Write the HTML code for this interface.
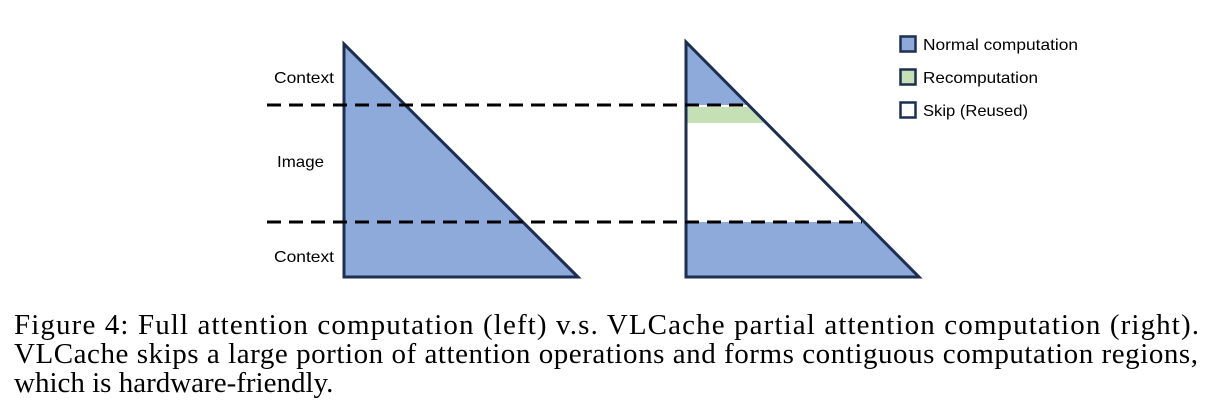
<!DOCTYPE html>
<html><head><meta charset="utf-8"><style>
html,body{margin:0;padding:0;background:#fff;width:1212px;height:418px;overflow:hidden}
</style></head><body>
<svg width="1212" height="418" viewBox="0 0 1212 418" xmlns="http://www.w3.org/2000/svg">
<polygon points="344,44 344,277 578,277" fill="#8eaadb" stroke="#1c2e52" stroke-width="3"/>
<polygon points="686,42 686,105 749,105" fill="#8eaadb"/>
<polygon points="686,107 748,107 765,123 686,123" fill="#c5e0b4"/>
<polygon points="686,222 867,222 919,277 686,277" fill="#8eaadb"/>
<polygon points="686,42 686,277 919,277" fill="none" stroke="#1c2e52" stroke-width="3"/>
<line x1="267" y1="105" x2="750" y2="105" stroke="#000" stroke-width="3" stroke-dasharray="14,8"/>
<line x1="267" y1="222" x2="862" y2="222" stroke="#000" stroke-width="3" stroke-dasharray="14,8"/>
<g font-family="'Liberation Sans',sans-serif" font-size="16" fill="#000">
<text x="274" y="83" textLength="60" lengthAdjust="spacingAndGlyphs">Context</text>
<text x="277" y="167" textLength="47" lengthAdjust="spacingAndGlyphs">Image</text>
<text x="274" y="262" textLength="60" lengthAdjust="spacingAndGlyphs">Context</text>
</g>
<rect x="900.5" y="36.5" width="15" height="15" fill="#8eaadb" stroke="#1c2e52" stroke-width="2.5"/>
<rect x="900.5" y="69.5" width="15" height="15" fill="#c5e0b4" stroke="#1c2e52" stroke-width="2.5"/>
<rect x="900.5" y="102.5" width="15" height="15" fill="#fff" stroke="#1c2e52" stroke-width="2.5"/>
<g font-family="'Liberation Sans',sans-serif" font-size="16" fill="#000">
<text x="923" y="50" textLength="155" lengthAdjust="spacingAndGlyphs">Normal computation</text>
<text x="923" y="83" textLength="115" lengthAdjust="spacingAndGlyphs">Recomputation</text>
<text x="923" y="116" textLength="105" lengthAdjust="spacingAndGlyphs">Skip (Reused)</text>
</g>
<g font-family="'Liberation Serif',serif" font-size="29" fill="#000">
<text x="14" y="334" textLength="1185" lengthAdjust="spacing">Figure 4:  Full attention computation (left) v.s.  VLCache partial attention computation (right).</text>
<text x="14" y="363" textLength="1184" lengthAdjust="spacing">VLCache skips a large portion of attention operations and forms contiguous computation regions,</text>
<text x="14" y="392">which is hardware-friendly.</text>
</g>
</svg>
</body></html>
